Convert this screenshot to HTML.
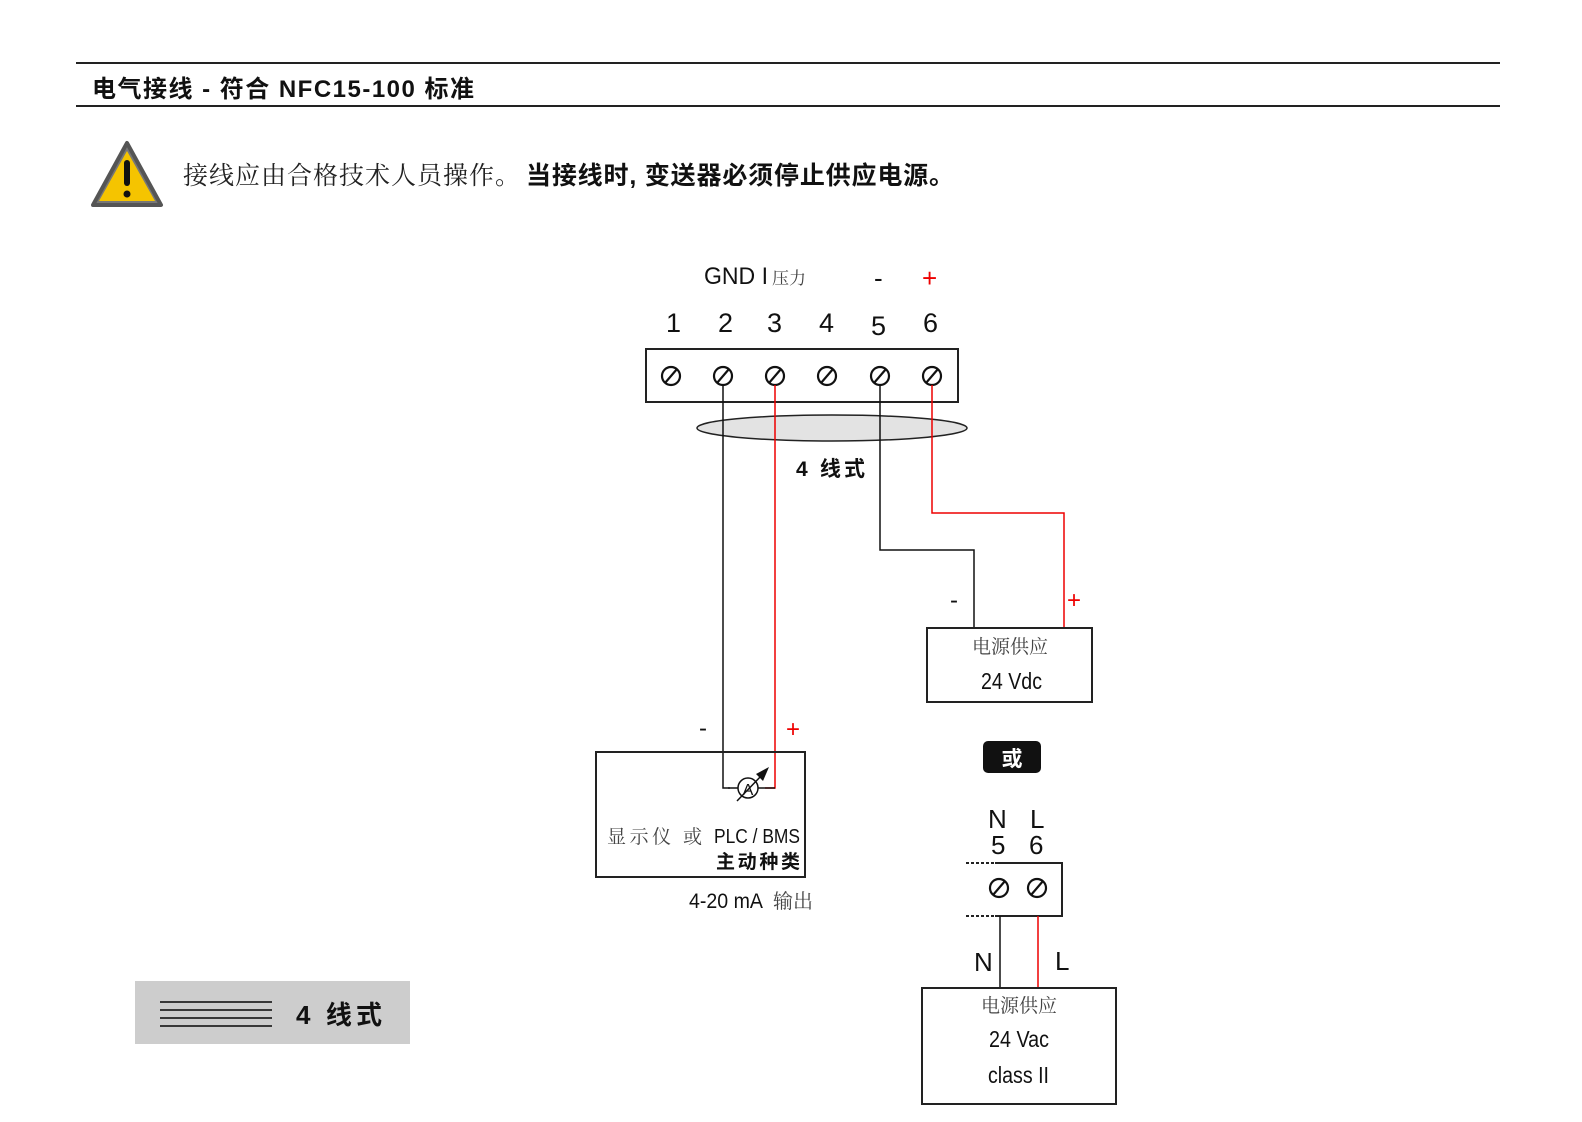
<!DOCTYPE html>
<html><head><meta charset="utf-8"><style>
html,body{margin:0;padding:0;background:#fff;overflow:hidden;width:1582px;height:1122px;}
svg{display:block;}
svg text{font-family:"Liberation Sans","Noto Sans CJK SC",sans-serif;}
.cj{font-family:"Liberation Sans","Noto Sans CJK SC",sans-serif;}
.sf{font-family:"Liberation Serif","Noto Serif CJK SC",serif;}
</style></head><body>
<svg width="1582" height="1122" viewBox="0 0 1582 1122" xmlns="http://www.w3.org/2000/svg">
<rect width="1582" height="1122" fill="#fff"/>
<line x1="76" y1="63" x2="1500" y2="63" stroke="#222" stroke-width="2"/>
<line x1="76" y1="106" x2="1500" y2="106" stroke="#222" stroke-width="2"/>
<text x="92" y="97" class="cj" font-size="24" font-weight="bold" fill="#111" textLength="382" lengthAdjust="spacing">电气接线 - 符合 NFC15-100 标准</text>
<!-- warning -->
<polygon points="127,143 161,205 93,205" fill="#777" stroke="#555" stroke-width="4" stroke-linejoin="round"/>
<polygon points="127,151 155,201 99,201" fill="#f5c400"/>
<rect x="124" y="160" width="6" height="26" rx="3" fill="#111"/>
<circle cx="127" cy="194" r="3.5" fill="#111"/>
<text x="183" y="184" class="sf" font-size="25" fill="#222" textLength="337" lengthAdjust="spacing">接线应由合格技术人员操作。</text>
<text x="526" y="184" class="cj" font-size="25" font-weight="bold" fill="#111" textLength="428" lengthAdjust="spacing">当接线时, 变送器必须停止供应电源。</text>
<!-- top labels -->
<text x="704" y="284" font-size="24" fill="#111" textLength="64" lengthAdjust="spacingAndGlyphs">GND I</text>
<text x="772" y="284" class="sf" font-size="17" fill="#444">压力</text>
<text x="874" y="287" font-size="26" fill="#111">-</text>
<text x="922" y="287" font-size="26" fill="#e00">+</text>
<g font-size="27" fill="#111">
<text x="666" y="332">1</text><text x="718" y="332">2</text><text x="767" y="332">3</text><text x="819" y="332">4</text><text x="871" y="335">5</text><text x="923" y="332">6</text>
</g>
<rect x="646" y="349" width="312" height="53" fill="#fff" stroke="#222" stroke-width="2"/>
<g stroke="#111" stroke-width="2.2" fill="none">
<circle cx="671" cy="376" r="9"/><line x1="665" y1="383" x2="677" y2="369"/>
<circle cx="723" cy="376" r="9"/><line x1="717" y1="383" x2="729" y2="369"/>
<circle cx="775" cy="376" r="9"/><line x1="769" y1="383" x2="781" y2="369"/>
<circle cx="827" cy="376" r="9"/><line x1="821" y1="383" x2="833" y2="369"/>
<circle cx="880" cy="376" r="9"/><line x1="874" y1="383" x2="886" y2="369"/>
<circle cx="932" cy="376" r="9"/><line x1="926" y1="383" x2="938" y2="369"/>
</g>
<ellipse cx="832" cy="428" rx="135" ry="13" fill="#e3e3e3" stroke="#222" stroke-width="1.5"/>
<!-- wires -->
<polyline points="723,385 723,788 730,788" fill="none" stroke="#111" stroke-width="1.5"/>
<polyline points="775,385 775,788 765,788" fill="none" stroke="#e00" stroke-width="1.5"/>
<polyline points="880,385 880,550 974,550 974,628" fill="none" stroke="#111" stroke-width="1.5"/>
<polyline points="932,385 932,513 1064,513 1064,628" fill="none" stroke="#e00" stroke-width="1.5"/>
<text x="796" y="476" class="cj" font-size="21" font-weight="bold" fill="#111" textLength="69" lengthAdjust="spacing">4 线式</text>
<!-- power supply dc -->
<text x="950" y="608" font-size="24" fill="#111">-</text>
<text x="1067" y="608" font-size="24" fill="#e00">+</text>
<rect x="927" y="628" width="165" height="74" fill="#fff" stroke="#222" stroke-width="2"/>
<text x="1010" y="653" class="sf" font-size="19" fill="#444" text-anchor="middle">电源供应</text>
<text x="981" y="689" font-size="23" fill="#111" textLength="61" lengthAdjust="spacingAndGlyphs">24 Vdc</text>
<!-- display -->
<text x="699" y="736" font-size="24" fill="#111">-</text>
<text x="786" y="737" font-size="24" fill="#e00">+</text>
<rect x="596" y="752" width="209" height="125" fill="none" stroke="#222" stroke-width="2"/>
<line x1="728" y1="788" x2="738" y2="788" stroke="#111" stroke-width="1.5"/>
<line x1="758" y1="788" x2="775" y2="788" stroke="#111" stroke-width="1.5"/>
<circle cx="748" cy="788" r="10" fill="#fff" stroke="#111" stroke-width="1.5"/>
<text x="748" y="795" font-size="16" fill="#111" text-anchor="middle">A</text>
<line x1="737" y1="801" x2="762" y2="775" stroke="#111" stroke-width="1.5"/>
<polygon points="769,767 756,774 763,781" fill="#111"/>
<text x="607" y="843" class="sf" font-size="19" fill="#444" textLength="95" lengthAdjust="spacing">显示仪 或</text>
<text x="714" y="843" font-size="20" fill="#111" textLength="86" lengthAdjust="spacingAndGlyphs">PLC / BMS</text>
<text x="716" y="868" class="cj" font-size="19" font-weight="bold" fill="#111" textLength="84" lengthAdjust="spacing">主动种类</text>
<text x="689" y="908" font-size="21" fill="#111" textLength="74" lengthAdjust="spacingAndGlyphs">4-20 mA</text>
<text x="773" y="908" class="sf" font-size="20" fill="#444">输出</text>
<!-- or -->
<rect x="983" y="741" width="58" height="32" rx="5" fill="#111"/>
<text x="1012" y="766" class="cj" font-size="21" font-weight="bold" fill="#fff" text-anchor="middle">或</text>
<!-- ac terminal -->
<text x="988" y="828" font-size="26" fill="#111">N</text><text x="1030" y="828" font-size="26" fill="#111">L</text>
<text x="991" y="854" font-size="26" fill="#111">5</text><text x="1029" y="854" font-size="26" fill="#111">6</text>
<polyline points="995,863 1062,863 1062,916 995,916" fill="none" stroke="#222" stroke-width="2"/>
<line x1="966" y1="863" x2="995" y2="863" stroke="#222" stroke-width="2" stroke-dasharray="3,2"/>
<line x1="966" y1="916" x2="995" y2="916" stroke="#222" stroke-width="2" stroke-dasharray="3,2"/>
<g stroke="#111" stroke-width="2.2" fill="none">
<circle cx="999" cy="888" r="9"/><line x1="993" y1="895" x2="1005" y2="881"/>
<circle cx="1037" cy="888" r="9"/><line x1="1031" y1="895" x2="1043" y2="881"/>
</g>
<line x1="1000" y1="916" x2="1000" y2="988" stroke="#111" stroke-width="1.5"/>
<line x1="1038" y1="916" x2="1038" y2="988" stroke="#e00" stroke-width="1.5"/>
<text x="974" y="971" font-size="26" fill="#111">N</text>
<text x="1055" y="970" font-size="26" fill="#111">L</text>
<rect x="922" y="988" width="194" height="116" fill="#fff" stroke="#222" stroke-width="2"/>
<text x="1019" y="1012" class="sf" font-size="19" fill="#444" text-anchor="middle">电源供应</text>
<text x="989" y="1047" font-size="23" fill="#111" textLength="60" lengthAdjust="spacingAndGlyphs">24 Vac</text>
<text x="988" y="1083" font-size="23" fill="#111" textLength="61" lengthAdjust="spacingAndGlyphs">class II</text>
<!-- legend -->
<rect x="135" y="981" width="275" height="63" fill="#cdcdcd"/>
<g stroke="#222" stroke-width="1.8">
<line x1="160" y1="1002" x2="272" y2="1002"/><line x1="160" y1="1010" x2="272" y2="1010"/>
<line x1="160" y1="1018" x2="272" y2="1018"/><line x1="160" y1="1026" x2="272" y2="1026"/>
</g>
<text x="296" y="1024" class="cj" font-size="26" font-weight="bold" fill="#111" textLength="86" lengthAdjust="spacing">4 线式</text>
</svg>
</body></html>
